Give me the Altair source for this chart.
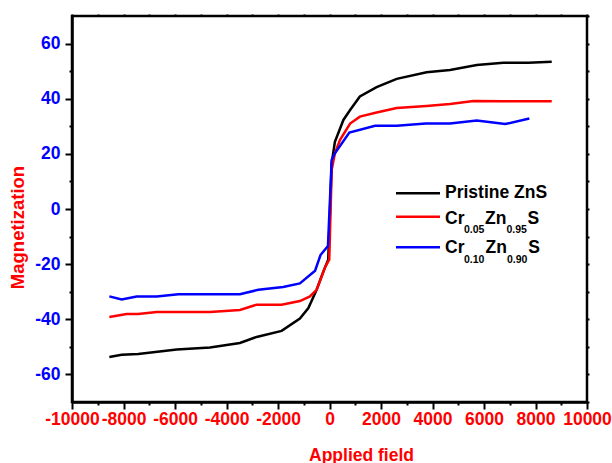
import altair as alt
import pandas as pd

# Magnetization (emu/g) versus applied field (Oe) for the three samples
field_pristine = [-8550, -8070, -7430, -5930, -4640, -3480, -2830, -1860, -1150, -820,
                  -500, -240, -50, 85, 210, 540, 800, 1180, 1830, 2610, 3770, 4680,
                  5720, 6750, 7720, 8630]
mag_pristine = [-53.7, -52.9, -52.6, -51.0, -50.2, -48.6, -46.4, -44.2, -39.7, -35.9,
                -29.3, -22.7, -18.4, 16.6, 24.4, 32.3, 35.9, 40.8, 44.2, 47.2, 49.6, 50.4,
                52.2, 53.0, 53.0, 53.4]

field_cr005 = [-8550, -7880, -7430, -6710, -4640, -3480, -2830, -1860, -1150, -760,
               -500, -160, -10, 85, 210, 410, 800, 1180, 1830, 2610, 3770, 4680,
               5590, 6750, 7720, 8630]
mag_cr005 = [-39.2, -38.1, -38.1, -37.4, -37.4, -36.6, -34.7, -34.7, -33.4, -31.7,
             -29.3, -20.9, -18.4, 14.2, 20.2, 25.1, 31.0, 33.5, 35.0, 36.6, 37.4, 38.1,
             39.2, 39.1, 39.1, 39.1]

field_cr010 = [-8550, -8070, -7490, -6710, -5870, -3480, -2760, -1800, -1150, -560,
               -350, -60, 85, 210, 770, 1770, 2610, 3740, 4680, 5720, 6820, 7760]
mag_cr010 = [-31.7, -32.8, -31.7, -31.7, -30.9, -30.9, -29.3, -28.3, -27.0, -22.4,
             -16.7, -13.4, 17.8, 20.2, 27.7, 30.2, 30.2, 31.0, 31.0, 32.1, 30.8, 32.8]

x_major = list(range(-10000, 10001, 2000))
x_minor = list(range(-9000, 10000, 2000))
x_all = list(range(-10000, 10001, 1000))
y_major = list(range(-60, 61, 20))
y_minor = list(range(-50, 51, 20))
y_all = list(range(-70, 71, 10))

FONT = "Liberation Sans"
RED = "#ff0000"
BLUE = "#0000ff"
BLACK = "#000000"

W, H = 515, 386

x_scale = alt.Scale(domain=[-10000, 10000], nice=False, zero=False)
y_scale = alt.Scale(domain=[-70, 70], nice=False, zero=False)


def frame(x, y):
    return pd.DataFrame({"field": x, "mag": y})


df_p = frame(field_pristine, mag_pristine)
df_a = frame(field_cr005, mag_cr005)
df_b = frame(field_cr010, mag_cr010)

x_main_axis = alt.Axis(
    orient="bottom", values=x_major, labelExpr="'' + datum.value",
    labelColor=RED, labelFont=FONT, labelFontSize=17.5, labelFontWeight="bold",
    labelFlush=False, labelOverlap=False, labelPadding=1,
    tickSize=7, tickWidth=2, tickColor=BLACK,
    domainColor=BLACK, domainWidth=2.5, grid=False,
    title="Applied field", titleColor=RED, titleFont=FONT, titleFontSize=17.5,
    titleFontWeight="bold", titleX=289, titleY=58, titleAlign="center",
    titleBaseline="alphabetic",
)
y_main_axis = alt.Axis(
    orient="left", values=y_major, labelExpr="'' + datum.value",
    labelColor=BLUE, labelFont=FONT, labelFontSize=17.5, labelFontWeight="bold",
    labelPadding=5, tickSize=7, tickWidth=2, tickColor=BLACK,
    domainColor=BLACK, domainWidth=2.5, grid=False,
    title="Magnetization", titleColor=RED, titleFont=FONT, titleFontSize=18.5,
    titleFontWeight="bold", titleAngle=270, titleX=-49, titleY=211,
    titleAlign="center", titleBaseline="alphabetic",
)


def tick_axis(orient, values, size):
    return alt.Axis(orient=orient, values=values, labels=False, domain=False,
                    grid=False, tickSize=size, tickWidth=2, tickColor=BLACK, title="")


def series(df, color, x_axis=None, y_axis=None):
    return alt.Chart(df).mark_line(color=color, strokeWidth=2.5).encode(
        x=alt.X("field:Q", scale=x_scale, axis=x_axis),
        y=alt.Y("mag:Q", scale=y_scale, axis=y_axis),
    )


base_p = series(df_p, BLACK, x_main_axis, y_main_axis)
line_a = series(df_a, RED)
line_b = series(df_b, BLUE)

# extra tick rings: minor ticks on bottom/left, small ticks on top/right
minor_ticks = alt.Chart(df_p).mark_line(strokeOpacity=0).encode(
    x=alt.X("field:Q", scale=x_scale, axis=tick_axis("bottom", x_minor, 3)),
    y=alt.Y("mag:Q", scale=y_scale, axis=tick_axis("left", y_minor, 3)),
)
mirror_ticks = alt.Chart(df_p).mark_line(strokeOpacity=0).encode(
    x=alt.X("field:Q", scale=x_scale, axis=tick_axis("top", x_all, 2)),
    y=alt.Y("mag:Q", scale=y_scale, axis=tick_axis("right", y_all, 2)),
)

# hand-built legend (subscripted formulas)
dummy = pd.DataFrame({"k": [0]})


def key_line(color, y):
    return alt.Chart(dummy).mark_rule(color=color, strokeWidth=2.5).encode(
        x=alt.value(324), x2=alt.value(368), y=alt.value(y)
    )


def key_text(txt, x, y, size=17.5):
    return alt.Chart(pd.DataFrame({"t": [txt]})).mark_text(
        align="left", baseline="alphabetic", font=FONT, fontSize=size,
        fontWeight="bold", color=BLACK,
    ).encode(x=alt.value(x), y=alt.value(y), text="t:N")


legend = [
    key_line(BLACK, 177.3),
    key_text("Pristine ZnS", 373, 182.3),
    key_line(RED, 200.7),
    key_text("Cr", 373, 208),
    key_text("0.05", 392, 217.3, 10.5),
    key_text("Zn", 413, 208),
    key_text("0.95", 434.5, 217.3, 10.5),
    key_text("S", 455.5, 208),
    key_line(BLUE, 231.3),
    key_text("Cr", 373, 237.3),
    key_text("0.10", 392, 246.7, 10.5),
    key_text("Zn", 413.5, 237.3),
    key_text("0.90", 435, 246.7, 10.5),
    key_text("S", 456.3, 237.3),
]

chart = alt.layer(
    minor_ticks, mirror_ticks, base_p, line_a, line_b, *legend
).resolve_axis(
    x="independent", y="independent"
).properties(
    width=W, height=H,
    autosize=alt.AutoSizeParams(type="none"),
    padding={"left": 72, "top": 16, "right": 612 - 72 - W, "bottom": 463 - 16 - H},
).configure_view(
    stroke=BLACK, strokeWidth=2.5
)

chart.save("out.html", embed_options={"renderer": "svg", "actions": False})
